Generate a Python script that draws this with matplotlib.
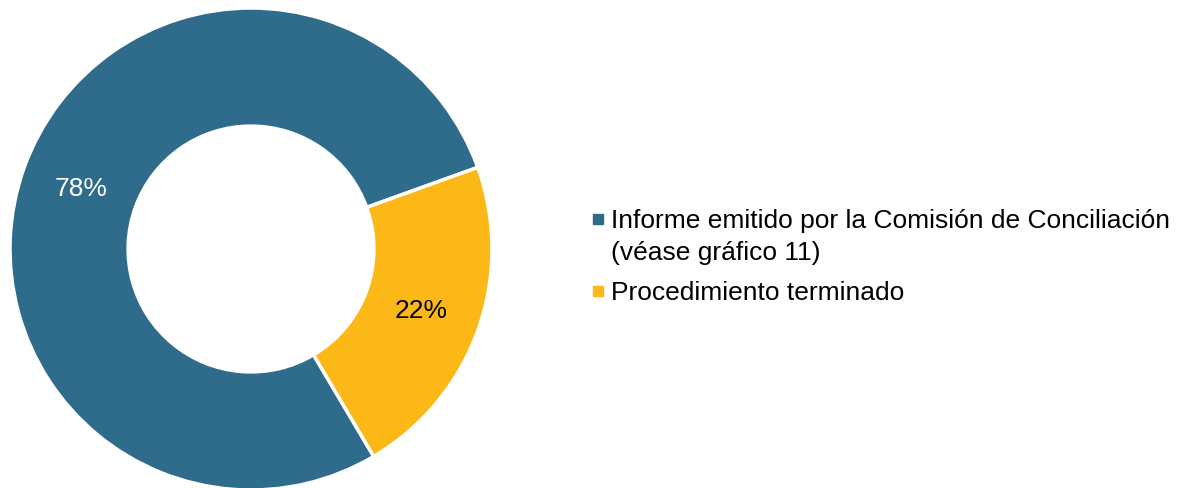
import matplotlib
matplotlib.use('Agg')
import matplotlib.pyplot as plt
from matplotlib.patches import Rectangle

plt.rcParams['font.family'] = ['Liberation Sans', 'DejaVu Sans']

labels = [['Informe emitido por la Comisión de Conciliación', '(véase gráfico 11)'],
          ['Procedimiento terminado']]
values = [78, 22]
colors = ['#2F6B8A', '#FBB817']
pct_colors = ['white', 'black']

fig = plt.figure(figsize=(11.82, 4.89), dpi=100)

# donut axes, center ~ (251, 250) px from top, radius ~241 px
W, H = 1182, 489
cx, cy, r = 251, H - 250, 241
ax = fig.add_axes([(cx - r) / W, (cy - r) / H, 2 * r / W, 2 * r / H])

wedges, texts, autotexts = ax.pie(
    values, colors=colors, startangle=19.8, counterclock=True,
    radius=1.0, autopct='%d%%', pctdistance=0.75,
    wedgeprops=dict(width=0.49, edgecolor='white', linewidth=2.5),
    textprops=dict(fontsize=19))
for t, c in zip(autotexts, pct_colors):
    t.set_color(c)
ax.set_xlim(-1, 1)
ax.set_ylim(-1, 1)
ax.set_aspect('equal')
ax.axis('off')

# legend drawn by hand so the marker sits on the first line
leg_y = [H - 228, H - 300]
line_gap = 32
for lines, col, y in zip(labels, colors, leg_y):
    fig.add_artist(Rectangle(((598 - 5) / W, (y + 3) / H), 10 / W, 10 / H,
                             transform=fig.transFigure, color=col))
    for i, line in enumerate(lines):
        fig.text(611 / W, (y - i * line_gap) / H, line, fontsize=19,
                 va='baseline', ha='left', color='#000000')

fig.savefig('out.png', dpi=100)
